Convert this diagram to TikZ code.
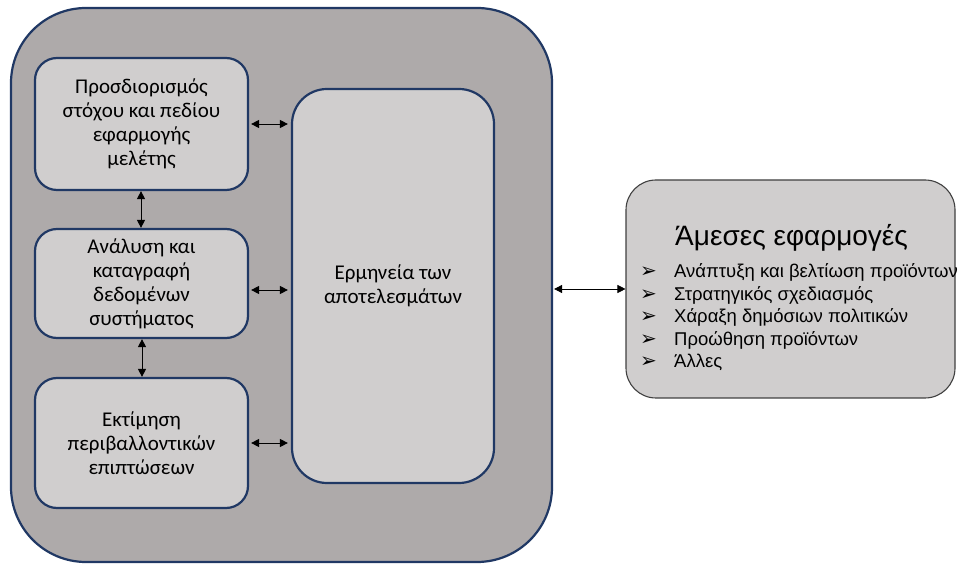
\documentclass[tikz,border=0pt]{standalone}
\usepackage{fontspec}
\setmainfont{Carlito}
\newfontfamily\arialfont{Liberation Sans}
\newfontfamily\symfont{DejaVu Sans}
\usetikzlibrary{arrows.meta}
\definecolor{navy}{HTML}{203864}
\definecolor{outerfill}{HTML}{AEAAAA}
\definecolor{innerfill}{HTML}{D0CECE}
\definecolor{edgegray}{HTML}{404040}
\newcommand{\tip}{\makebox[34pt][l]{\symfont\fontsize{20}{22.5}\selectfont ➢}}
\begin{document}
\begin{tikzpicture}[x=1pt,y=1pt,
  stagebox/.style={draw=navy, line width=2.2pt, fill=innerfill, rounded corners=22pt,
    align=center, font=\fontsize{21}{24}\selectfont, inner sep=0pt},
  link/.style={line width=0.9pt, {Triangle[length=8pt,width=8pt]}-{Triangle[length=8pt,width=8pt]}}]
\useasboundingbox (0,0) rectangle (958,565);
\clip (0,0) rectangle (958,565);

% enclosing study frame
\node[draw=navy, line width=2.2pt, fill=outerfill, rounded corners=75pt,
  minimum width=541pt, minimum height=554pt, inner sep=0pt] (frame) at (281.5,280) {};

% study stages
\node[stagebox, minimum width=213pt, minimum height=132pt] (goal) at (141.5,441)
  {Προσδιορισμός\\στόχου και πεδίου\\εφαρμογής\\μελέτης};
\node[stagebox, minimum width=213pt, minimum height=109pt] (data) at (141.5,281.5)
  {Ανάλυση και\\καταγραφή\\δεδομένων\\συστήματος};
\node[stagebox, minimum width=213pt, minimum height=130pt] (impact) at (141.5,122)
  {Εκτίμηση\\περιβαλλοντικών\\επιπτώσεων};
\node[stagebox, rounded corners=35pt, minimum width=202pt, minimum height=394pt] (interp) at (393,279)
  {Ερμηνεία των\\αποτελεσμάτων};

% applications box
\node[draw=edgegray, line width=1.1pt, fill=innerfill, rounded corners=30pt,
  minimum width=329pt, minimum height=218pt, inner sep=0pt] (apps) at (790.5,276) {};
\node[anchor=base west, inner sep=0pt, font=\arialfont\fontsize{28}{32}\selectfont] (appstitle) at (675,319)
  {Άμεσες εφαρμογές};
\node[anchor=base west, inner sep=0pt, align=left, font=\arialfont\fontsize{18.5}{22.5}\selectfont] (appslist) at (640,197)
  {\tip Ανάπτυξη και βελτίωση προϊόντων\\
   \tip Στρατηγικός σχεδιασμός\\
   \tip Χάραξη δημόσιων πολιτικών\\
   \tip Προώθηση προϊόντων\\
   \tip Άλλες};

% connectors
\draw[link] ([xshift=-0.5pt]goal.south) -- ([xshift=-0.5pt]data.north);
\draw[link] ([xshift=0.5pt]data.south) -- ([xshift=0.5pt]impact.north);
\draw[link] ([xshift=2pt]goal.east) -- ([xshift=-3pt]interp.west |- goal.east);
\draw[link] ([xshift=2pt,yshift=-6.5pt]data.east) -- ([xshift=-3pt,yshift=-6.5pt]interp.west |- data.east);
\draw[link] ([xshift=2pt]impact.east) -- ([xshift=-3pt]interp.west |- impact.east);
\draw[link, line width=0.6pt] ([xshift=1pt]frame.east |- apps.west) -- (apps.west);
\end{tikzpicture}
\end{document}
